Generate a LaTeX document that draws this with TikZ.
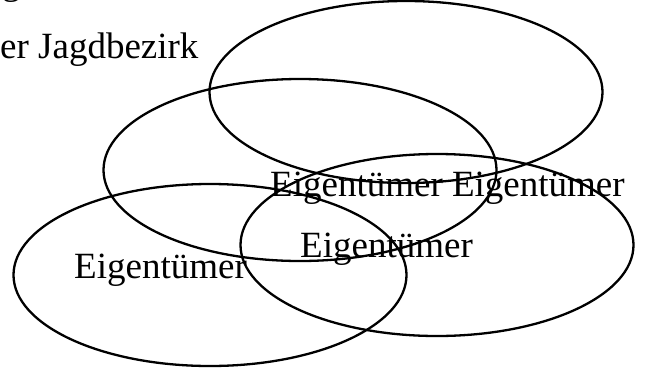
\documentclass[tikz,border=0pt]{standalone}
\usepackage{fontspec}
\setmainfont{Liberation Serif}
\usetikzlibrary{shapes.geometric}
\tikzset{
  bezirk/.style={
    ellipse, draw=black, line width=2.3pt, inner sep=0pt,
    minimum width=393pt, minimum height=182pt
  },
  beschriftung/.style={
    anchor=base west, inner sep=0pt, text=black,
    font=\fontsize{37pt}{40pt}\selectfont
  },
}
\begin{document}
\begin{tikzpicture}[x=1pt, y=-1pt]
    \useasboundingbox (0,0) rectangle (645,370);
    % vier Jagdbezirke
    \node[bezirk] (b1) at (406,92) {};
    \node[bezirk] (b2) at (300,170) {};
    \node[bezirk] (b3) at (210,275) {};
    \node[bezirk] (b4) at (437,245) {};
    % Beschriftungen
    \node[beschriftung] (oben) at (2,-6) {g};
    \node[beschriftung] (jagd) at (0,58) {er Jagdbezirk};
    \node[beschriftung] (eigZwei) at (270,196) {Eigentümer Eigentümer};
    \node[beschriftung] (eigMitte) at (300,257) {Eigentümer};
    \node[beschriftung] (eigLinks) at (74,278) {Eigentümer};
\end{tikzpicture}
\end{document}
